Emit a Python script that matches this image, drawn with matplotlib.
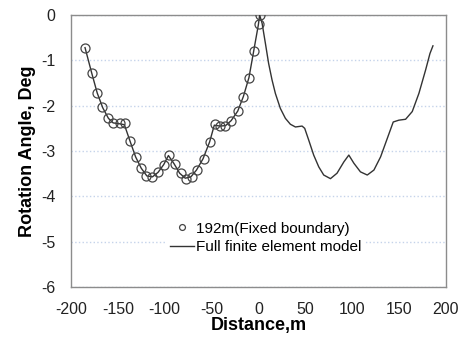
import numpy as np
import matplotlib
matplotlib.use("Agg")
import matplotlib.pyplot as plt

# 192 m model with fixed boundary (markers, left half only)
fixed_x = [-185, -178, -172.5, -167, -160, -155, -148, -142, -137, -130.5, -125,
           -120, -113, -107, -101, -95, -89, -83, -77, -71, -65, -58.5, -52,
           -46.7, -41.4, -35.3, -29, -21.7, -16.4, -10, -5, 0.3, 1.4]
fixed_y = [-0.72, -1.27, -1.71, -2.04, -2.27, -2.39, -2.39, -2.39, -2.78, -3.13, -3.38,
           -3.55, -3.58, -3.47, -3.31, -3.09, -3.29, -3.49, -3.61, -3.58, -3.42, -3.18, -2.80,
           -2.41, -2.45, -2.45, -2.33, -2.12, -1.80, -1.38, -0.79, -0.20, 0.0]

# full finite element model (line)
full_x = [-185, -178, -172, -166, -160, -155, -148, -143, -137, -131, -125,
          -119, -113, -107, -101, -96, -90, -84, -78, -72, -66, -59, -52,
          -47, -41, -35, -29, -22, -16, -10, -5, 0, 1.4,
          4, 7.5, 11, 14.6, 18.2, 23.5, 28.9, 34.2, 39.6, 46.7, 49.5, 53.8,
          59.1, 64.5, 69.8, 77, 84, 91.3, 96.6, 102, 109, 116.3, 123.4,
          130.5, 137.7, 144, 150, 157.2, 164.3, 171.4, 178.6, 183.2, 186.4]
full_y = [-0.72, -1.27, -1.72, -2.05, -2.28, -2.38, -2.40, -2.42, -2.78, -3.13, -3.38,
          -3.55, -3.57, -3.47, -3.30, -3.10, -3.28, -3.49, -3.60, -3.57, -3.42, -3.17, -2.80,
          -2.43, -2.45, -2.44, -2.33, -2.12, -1.80, -1.38, -0.80, -0.22, 0.0,
          -0.18, -0.62, -1.07, -1.43, -1.73, -2.06, -2.28, -2.41, -2.47, -2.45, -2.50, -2.76,
          -3.09, -3.35, -3.53, -3.61, -3.49, -3.24, -3.09, -3.27, -3.46, -3.53, -3.42,
          -3.13, -2.72, -2.36, -2.32, -2.30, -2.13, -1.73, -1.21, -0.85, -0.68]

x_ticks = [-200, -150, -100, -50, 0, 50, 100, 150, 200]
y_ticks = [0, -1, -2, -3, -4, -5, -6]

plt.rcParams["font.family"] = ["Liberation Sans", "DejaVu Sans"]
plt.rcParams["axes.unicode_minus"] = False

fig = plt.figure(figsize=(4.63, 3.38), dpi=100)
ax = fig.add_axes([0.1533, 0.1509, 0.8093, 0.8047])

ax.plot(full_x, full_y, color="#333333", linewidth=1.0,
        label="Full finite element model", zorder=3)
ax.plot(fixed_x, fixed_y, linestyle="none", marker="o", markersize=6.5,
        markerfacecolor="none", markeredgecolor="#444444", markeredgewidth=0.9,
        label="192m(Fixed boundary)", zorder=4)

ax.set_xlim(-200, 200)
ax.set_ylim(-6, 0)
ax.set_xticks(x_ticks)
ax.set_yticks(y_ticks)
ax.tick_params(axis="both", length=0, labelsize=11.5, colors="#222222")
ax.tick_params(axis="x", pad=11)
ax.tick_params(axis="y", pad=11)

ax.grid(axis="y", color="#c5d3ea", linestyle=":", linewidth=1.0)
ax.set_axisbelow(True)
for sp in ax.spines.values():
    sp.set_color("#8c8c8c")
    sp.set_linewidth(1.0)

ax.set_xlabel("Distance,m", fontsize=13, fontweight="bold", labelpad=0)
ax.set_ylabel("Rotation Angle, Deg", fontsize=13, fontweight="bold", labelpad=4)

handles, labels = ax.get_legend_handles_labels()
leg = ax.legend(handles[::-1], labels[::-1], loc="upper left",
                bbox_to_anchor=(0.235, 0.28), frameon=True, fontsize=11,
                handlelength=1.6, handletextpad=0.15, labelspacing=0.3,
                borderpad=0.2, markerscale=0.65)
leg.get_frame().set_edgecolor("none")
leg.get_frame().set_facecolor("white")
leg.get_frame().set_alpha(1)

fig.savefig("out.png", dpi=100)
